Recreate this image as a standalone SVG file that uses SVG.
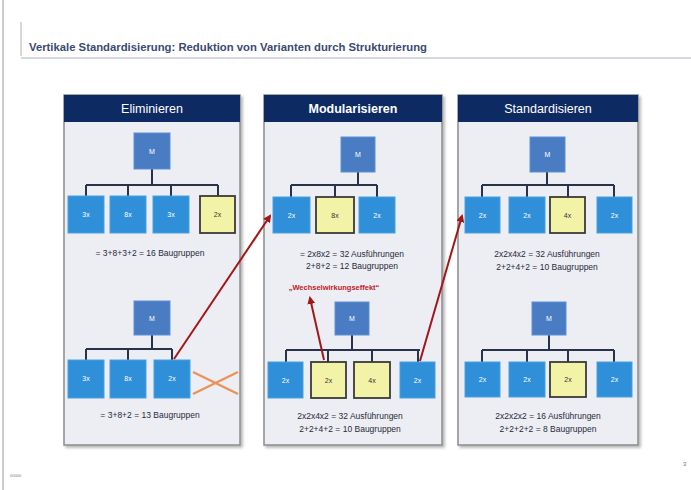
<svg xmlns="http://www.w3.org/2000/svg" width="691" height="490" viewBox="0 0 691 490">
<defs>
<style>
.hdr{fill:#0e2a63}
.body{fill:#eceef4;stroke:#8c8c8c;stroke-width:1.5}
.m{fill:#4a7cc4;stroke:#5d8fd4;stroke-width:1}
.c{fill:#2f8fd8;stroke:#4aa0e0;stroke-width:1}
.y{fill:#f3f3a8;stroke:#3a3a3a;stroke-width:1.8}
.tree{fill:none;stroke:#28324a;stroke-width:2}
.ht{font-family:"Liberation Sans",Arial,sans-serif;font-size:12.5px;fill:#ffffff;text-anchor:middle}
.lt{font-family:"Liberation Sans",Arial,sans-serif;font-size:7px;fill:#ffffff;text-anchor:middle}
.ly{font-family:"Liberation Sans",Arial,sans-serif;font-size:7px;fill:#333333;text-anchor:middle}
.tx{font-family:"Liberation Sans",Arial,sans-serif;font-size:8.5px;fill:#2a2a3a;text-anchor:middle}
.red{fill:none;stroke:#a3161a;stroke-width:2}
</style>
<marker id="ah" markerWidth="8" markerHeight="8" refX="6" refY="4" orient="auto" markerUnits="userSpaceOnUse">
<path d="M0,0 L8,4 L0,8 z" fill="#a3161a"/>
</marker>
<filter id="sh" x="-5%" y="-5%" width="115%" height="115%">
<feDropShadow dx="2" dy="2" stdDeviation="1.5" flood-color="#000" flood-opacity="0.3"/>
</filter>
</defs>
<rect width="691" height="490" fill="#ffffff"/>
<line x1="3" y1="0" x2="3" y2="490" stroke="#9a9a9a" stroke-width="1"/>
<g id="title">
<path d="M21,22 V56" stroke="#b0b0b0" stroke-width="1"/>
<line x1="21" y1="58" x2="691" y2="58" stroke="#c8cbd6" stroke-width="1.5"/>
<text x="29" y="51" font-family="Liberation Sans,Arial,sans-serif" font-size="10.5" font-weight="bold" fill="#3b4a70" textLength="398" lengthAdjust="spacingAndGlyphs">Vertikale Standardisierung: Reduktion von Varianten durch Strukturierung</text>
</g>

<g id="panel-eliminieren">
<rect class="body" x="64" y="95" width="176" height="350" filter="url(#sh)"/>
<rect class="hdr" x="64" y="95" width="176" height="27"/>
<text class="ht" x="152" y="113">Eliminieren</text>
</g>
<g id="panel-modularisieren">
<rect class="body" x="264" y="95" width="178" height="350" filter="url(#sh)"/>
<rect class="hdr" x="264" y="95" width="178" height="27"/>
<text class="ht" x="353" y="113" font-weight="bold">Modularisieren</text>
</g>
<g id="panel-standardisieren">
<rect class="body" x="458" y="95" width="180" height="350" filter="url(#sh)"/>
<rect class="hdr" x="458" y="95" width="180" height="27"/>
<text class="ht" x="548" y="113">Standardisieren</text>
</g>

<g id="tree-e1">
<path class="tree" d="M152,169 V185 M86,185 H218 M86,185 V196 M128,185 V196 M171,185 V196 M218,185 V196"/>
<rect class="m" x="134" y="133" width="36" height="36"/><text class="lt" x="152" y="154">M</text>
<rect class="c" x="68" y="196" width="36" height="37"/><text class="lt" x="86" y="217">3x</text>
<rect class="c" x="110" y="196" width="36" height="37"/><text class="lt" x="128" y="217">8x</text>
<rect class="c" x="153" y="196" width="36" height="37"/><text class="lt" x="171" y="217">3x</text>
<rect class="y" x="200" y="196" width="35" height="37"/><text class="ly" x="217.5" y="217">2x</text>
<text class="tx" x="150" y="256">= 3+8+3+2 = 16 Baugruppen</text>
</g>
<g id="tree-e2">
<path class="tree" d="M152,335 V349 M86,349 H172 M86,349 V360 M128,349 V360 M172,349 V360"/>
<rect class="m" x="134" y="301" width="36" height="34"/><text class="lt" x="152" y="321">M</text>
<rect class="c" x="68" y="360" width="36" height="38"/><text class="lt" x="86" y="381">3x</text>
<rect class="c" x="110" y="360" width="36" height="38"/><text class="lt" x="128" y="381">8x</text>
<rect class="c" x="154" y="360" width="36" height="38"/><text class="lt" x="172" y="381">2x</text>
<text class="tx" x="150" y="418">= 3+8+2 = 13 Baugruppen</text>
</g>

<g id="tree-m1">
<path class="tree" d="M358,172 V185 M291,185 H377 M291,185 V197 M335,185 V197 M377,185 V197"/>
<rect class="m" x="341" y="137" width="34" height="35"/><text class="lt" x="358" y="157">M</text>
<rect class="c" x="273" y="197" width="37" height="36"/><text class="lt" x="291.5" y="218">2x</text>
<rect class="y" x="316" y="197" width="38" height="36"/><text class="ly" x="335" y="218">8x</text>
<rect class="c" x="359" y="197" width="36" height="36"/><text class="lt" x="377" y="218">2x</text>
<text class="tx" x="352" y="257">= 2x8x2 = 32 Ausführungen</text>
<text class="tx" x="352" y="269">2+8+2 = 12 Baugruppen</text>
</g>
<text id="effect" x="334" y="290" font-family="Liberation Sans,Arial,sans-serif" font-size="7.5" font-weight="bold" fill="#c0202a" text-anchor="middle">„Wechselwirkungseffekt“</text>
<g id="tree-m2">
<path class="tree" d="M352,335 V350 M286,350 H420 M286,350 V362 M328,350 V362 M372,350 V362 M418,350 V362"/>
<rect class="m" x="335" y="302" width="34" height="33"/><text class="lt" x="352" y="321">M</text>
<rect class="c" x="268" y="362" width="35" height="36"/><text class="lt" x="285.5" y="383">2x</text>
<rect class="y" x="311" y="362" width="35" height="36"/><text class="ly" x="328.5" y="383">2x</text>
<rect class="y" x="354" y="362" width="36" height="36"/><text class="ly" x="372" y="383">4x</text>
<rect class="c" x="400" y="362" width="35" height="36"/><text class="lt" x="417.5" y="383">2x</text>
<text class="tx" x="350" y="419">2x2x4x2 = 32 Ausführungen</text>
<text class="tx" x="350" y="432">2+2+4+2 = 10 Baugruppen</text>
</g>

<g id="tree-s1">
<path class="tree" d="M547,172 V185 M482,185 H614 M482,185 V197 M527,185 V197 M568,185 V197 M614,185 V197"/>
<rect class="m" x="530" y="137" width="35" height="35"/><text class="lt" x="547.5" y="157">M</text>
<rect class="c" x="465" y="197" width="35" height="36"/><text class="lt" x="482.5" y="218">2x</text>
<rect class="c" x="509" y="197" width="36" height="36"/><text class="lt" x="527" y="218">2x</text>
<rect class="y" x="550" y="197" width="35" height="36"/><text class="ly" x="567.5" y="218">4x</text>
<rect class="c" x="597" y="197" width="35" height="36"/><text class="lt" x="614.5" y="218">2x</text>
<text class="tx" x="547" y="257">2x2x4x2 = 32 Ausführungen</text>
<text class="tx" x="547" y="270">2+2+4+2 = 10 Baugruppen</text>
</g>
<g id="tree-s2">
<path class="tree" d="M549,335 V350 M482,350 H614 M482,350 V362 M527,350 V362 M568,350 V362 M614,350 V362"/>
<rect class="m" x="532" y="302" width="34" height="33"/><text class="lt" x="549" y="321">M</text>
<rect class="c" x="465" y="362" width="35" height="35"/><text class="lt" x="482.5" y="382">2x</text>
<rect class="c" x="509" y="362" width="36" height="35"/><text class="lt" x="527" y="382">2x</text>
<rect class="y" x="550" y="362" width="36" height="35"/><text class="ly" x="568" y="382">2x</text>
<rect class="c" x="597" y="362" width="35" height="35"/><text class="lt" x="614.5" y="382">2x</text>
<text class="tx" x="548" y="419">2x2x2x2 = 16 Ausführungen</text>
<text class="tx" x="548" y="432">2+2+2+2 = 8 Baugruppen</text>
</g>

<g id="connectors">
<line class="red" x1="174" y1="359" x2="270" y2="216" marker-end="url(#ah)"/>
<line class="red" x1="420" y1="361" x2="462" y2="216" marker-end="url(#ah)"/>
<line class="red" x1="324" y1="360" x2="310" y2="298" marker-end="url(#ah)"/>
<g stroke-width="2.5" stroke="#e9935a" fill="none">
<line x1="193" y1="372" x2="238" y2="394"/>
<line x1="193" y1="394" x2="238" y2="372"/>
</g>
</g>
<text x="10" y="477" font-family="Liberation Sans,Arial,sans-serif" font-size="4" fill="#777777">00000</text>
<text x="683" y="466" font-family="Liberation Sans,Arial,sans-serif" font-size="6" fill="#777777">3</text>
</svg>
